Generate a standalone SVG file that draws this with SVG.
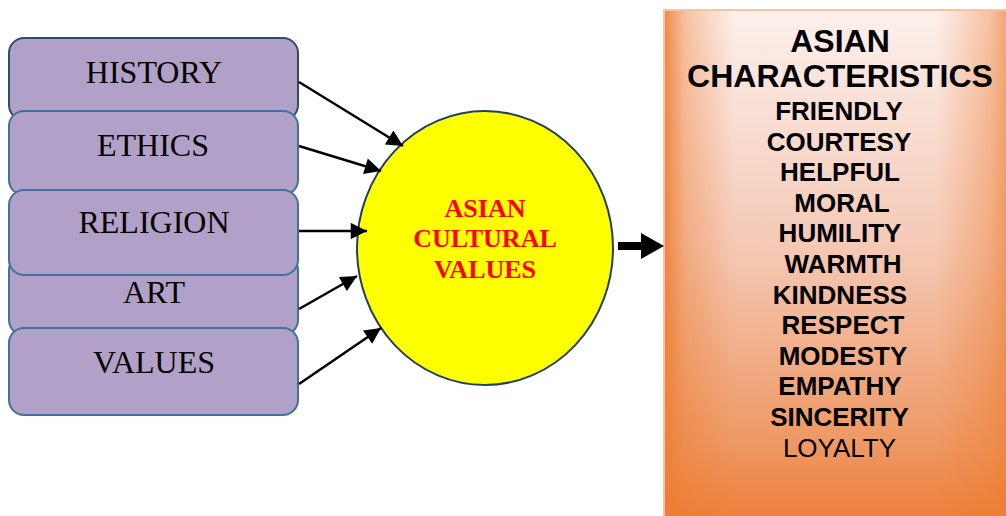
<svg xmlns="http://www.w3.org/2000/svg" width="1006" height="516" viewBox="0 0 1006 516">
<defs>
<style>
.box{fill:#b1a0c7;stroke:#41719c;stroke-width:2}
.btxt{font-family:"Liberation Serif",serif;font-size:32px;fill:#000;text-anchor:middle}
.ctxt{font-family:"Liberation Serif",serif;font-size:26px;font-weight:bold;fill:#ff0000;text-anchor:middle}
.htxt{font-family:"Liberation Sans",Arial,sans-serif;font-size:32px;font-weight:bold;fill:#000;text-anchor:middle}
.ltxt{font-family:"Liberation Sans",Arial,sans-serif;font-size:26px;font-weight:bold;fill:#000;text-anchor:middle}
.conn{stroke:#000;stroke-width:2.5;fill:none;marker-end:url(#ah)}
</style>
<marker id="ah" viewBox="0 0 10 10" refX="10" refY="5" markerWidth="7.5" markerHeight="6.5" markerUnits="strokeWidth" orient="auto">
<path d="M0,0 L10,5 L0,10 z" fill="#000"/>
</marker>
<linearGradient id="gv" x1="0" y1="0" x2="0" y2="1">
<stop offset="0" stop-color="#fcf0ec"/>
<stop offset="0.45" stop-color="#f5c9b6"/>
<stop offset="0.85" stop-color="#ee9660"/>
<stop offset="1" stop-color="#ec8243"/>
</linearGradient>
<linearGradient id="gh" x1="0" y1="0" x2="1" y2="0">
<stop offset="0" stop-color="#ed7d31" stop-opacity="0.9"/>
<stop offset="0.06" stop-color="#ed7d31" stop-opacity="0.4"/>
<stop offset="0.2" stop-color="#ed7d31" stop-opacity="0"/>
<stop offset="0.78" stop-color="#ed7d31" stop-opacity="0"/>
<stop offset="0.93" stop-color="#ed7d31" stop-opacity="0.4"/>
<stop offset="1" stop-color="#ed7d31" stop-opacity="0.75"/>
</linearGradient>
<linearGradient id="gb" x1="0" y1="0" x2="0" y2="1">
<stop offset="0.85" stop-color="#ed7d31" stop-opacity="0"/>
<stop offset="1" stop-color="#ed7d31" stop-opacity="0.6"/>
</linearGradient>
</defs>
<rect width="1006" height="516" fill="#fff"/>

<g id="node-history">
<rect class="box" x="9" y="38" width="289" height="82" rx="15" style="stroke:#2e4d6e"/>
<text class="btxt" x="154" y="83">HISTORY</text>
</g>
<g id="node-ethics">
<rect class="box" x="9" y="111" width="289" height="84" rx="15"/>
<text class="btxt" x="153" y="156">ETHICS</text>
</g>
<g id="node-art">
<rect class="box" x="9" y="255" width="289" height="80" rx="15"/>
<text class="btxt" x="154" y="303">ART</text>
</g>
<g id="node-religion">
<rect class="box" x="9" y="190" width="289" height="85" rx="15"/>
<text class="btxt" x="154" y="233">RELIGION</text>
</g>
<g id="node-values">
<rect class="box" x="9" y="328" width="289" height="87" rx="15"/>
<text class="btxt" x="154" y="373">VALUES</text>
</g>

<g id="node-asian-cultural-values">
<ellipse cx="485" cy="248" rx="128" ry="137" fill="#ffff00" stroke="#243f60" stroke-width="2"/>
<text class="ctxt" x="485" y="217">ASIAN</text>
<text class="ctxt" x="485" y="247">CULTURAL</text>
<text class="ctxt" x="485" y="278">VALUES</text>
</g>

<g id="node-asian-characteristics">
<rect x="664" y="10" width="350" height="520" fill="url(#gv)"/>
<rect x="664" y="10" width="350" height="520" fill="url(#gh)"/>
<rect x="664" y="10" width="350" height="520" fill="url(#gb)"/>
<rect x="664" y="10" width="350" height="520" fill="none" stroke="#f8c4a0" stroke-width="2"/>
<text class="htxt" x="840" y="52">ASIAN</text>
<text class="htxt" x="840" y="87">CHARACTERISTICS</text>
<text class="ltxt" x="839" y="120">FRIENDLY</text>
<text class="ltxt" x="839" y="150.6">COURTESY</text>
<text class="ltxt" x="840" y="181.2">HELPFUL</text>
<text class="ltxt" x="842" y="211.8">MORAL</text>
<text class="ltxt" x="840" y="242.4">HUMILITY</text>
<text class="ltxt" x="843" y="273">WARMTH</text>
<text class="ltxt" x="840" y="303.6">KINDNESS</text>
<text class="ltxt" x="843" y="334.2">RESPECT</text>
<text class="ltxt" x="843" y="364.8">MODESTY</text>
<text class="ltxt" x="840" y="395.4">EMPATHY</text>
<text class="ltxt" x="839.5" y="426">SINCERITY</text>
<text class="ltxt" x="839.5" y="456.6" style="font-weight:normal">LOYALTY</text>
</g>

<g id="connectors">
<line class="conn" x1="299" y1="82" x2="403" y2="146"/>
<line class="conn" x1="299" y1="146" x2="381" y2="171"/>
<line class="conn" x1="299" y1="231" x2="367" y2="231"/>
<line class="conn" x1="299" y1="309" x2="357" y2="276"/>
<line class="conn" x1="299" y1="384" x2="381" y2="328"/>
<path d="M618,242 L641,242 L641,233 L664,246 L641,259 L641,250 L618,250 z" fill="#000"/>
</g>
</svg>
